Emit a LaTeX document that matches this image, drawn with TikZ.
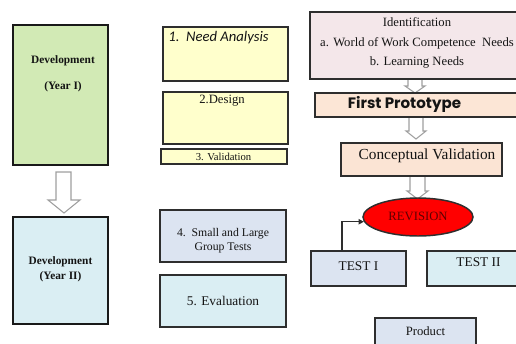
\documentclass[tikz,border=0pt]{standalone}
\usepackage{fontspec}
\setmainfont{Liberation Serif}
\newfontfamily\calib{Carlito}
\newfontfamily\popp{Poppins}
\usetikzlibrary{shapes.geometric,arrows.meta}
\definecolor{devgreen}{HTML}{D2EAB5}
\definecolor{devblue}{HTML}{DAEEF3}
\definecolor{paleyellow}{HTML}{FFFFCC}
\definecolor{lav}{HTML}{DCE4F1}
\definecolor{pinkish}{HTML}{F4E7EA}
\definecolor{peach}{HTML}{FCE6D6}
\definecolor{peach2}{HTML}{FBE4D4}
\definecolor{darkred}{HTML}{5E0000}
\definecolor{edge}{HTML}{2E2E2E}
\begin{document}
\begin{tikzpicture}[x=0.75pt,y=-0.75pt,
  box/.style={draw=edge, line width=1.1pt, inner sep=0pt},
  thickbox/.style={draw=black!90, line width=1.8pt, inner sep=0pt},
  txt/.style={inner sep=0pt, align=center, text=black!92},
  hollow/.style={draw=gray!75, fill=white, line width=0.8pt}]
\useasboundingbox (0,0) rectangle (516,343);
\clip (0,0) rectangle (516,343);

% hollow block arrows
\draw[hollow] (56,172) -- (71,172) -- (71,200) -- (80,200) -- (64,213) -- (48,200) -- (56,200) -- cycle;
\draw[hollow] (408,78) -- (422,78) -- (422,86) -- (425,86) -- (415,93) -- (405,86) -- (408,86) -- cycle;
\draw[hollow] (409,117) -- (423,117) -- (423,131) -- (426,131) -- (416,139) -- (406,131) -- (409,131) -- cycle;
\draw[hollow] (410,176) -- (425,176) -- (425,191) -- (428,191) -- (417.5,199) -- (407,191) -- (410,191) -- cycle;

% left column
\node[thickbox, fill=devgreen, minimum width=71.25pt, minimum height=105pt] (dev1) at (60.5,95) {};
\node[txt, font=\bfseries\fontsize{8.5}{19.5}\selectfont] (dev1t) at (63,74) {Development\\(Year I)};
\node[thickbox, fill=devblue, minimum width=71.25pt, minimum height=80.25pt] (dev2) at (60.5,270.5) {};
\node[txt, font=\bfseries\fontsize{8.5}{11.2}\selectfont] (dev2t) at (60.5,269.5) {Development\\(Year II)};

% middle column
\node[box, fill=paleyellow, minimum width=93.75pt, minimum height=40.5pt] (na) at (225.5,54) {};
\node[txt, font=\calib\itshape\fontsize{11}{13}\selectfont] (nat) at (218.5,38) {1.\ \ Need Analysis};
\node[box, fill=paleyellow, minimum width=93.75pt, minimum height=39pt] (des) at (225.5,118) {};
\node[txt, font=\fontsize{9.5}{11}\selectfont] (dest) at (222,101) {2.Design};
\node[box, fill=paleyellow, minimum width=94.5pt, minimum height=11.25pt] (val) at (224,156.5) {};
\node[txt, font=\fontsize{8}{10}\selectfont] (valt) at (223.5,157) {3. Validation};
\node[box, fill=lav, minimum width=94.5pt, minimum height=39pt] (slg) at (223,236) {};
\node[txt, font=\fontsize{8.8}{10.5}\selectfont] (slgt) at (223,241) {4.\ \ Small and Large\\Group Tests};
\node[box, fill=devblue, minimum width=94.5pt, minimum height=39pt] (eva) at (223,301) {};
\node[txt, font=\fontsize{10}{12}\selectfont] (evat) at (223,301) {5. Evaluation};

% right column
\node[box, fill=pinkish, minimum width=156pt, minimum height=50.25pt] (ident) at (414,45.5) {};
\node[txt, font=\fontsize{9.5}{14.8}\selectfont] (identt) at (417,43) {Identification\\a. World of Work Competence\ \ Needs\\b. Learning Needs};
\node[box, fill=peach, minimum width=152.25pt, minimum height=18pt] (fp) at (416.5,105) {};
\node[txt, font=\popp\bfseries\fontsize{11.3}{13}\selectfont] (fpt) at (404.5,104) {First Prototype};
\node[box, fill=peach2, minimum width=120.75pt, minimum height=24.75pt] (cv) at (421.5,159.5) {};
\node[txt, font=\fontsize{11.5}{13}\selectfont] (cvt) at (427,156) {Conceptual Validation};
\node[ellipse, draw=edge, line width=1.1pt, fill=red, minimum width=82.5pt, minimum height=28.5pt, inner sep=0pt] (rev) at (418,217) {};
\node[txt, text=darkred, font=\fontsize{9.5}{11}\selectfont] (revt) at (418,216) {REVISION};
\node[box, fill=lav, minimum width=71.25pt, minimum height=26.25pt] (t1) at (358.5,268.5) {};
\node[txt, font=\fontsize{10}{12}\selectfont] (t1t) at (358.5,266) {TEST I};
\node[box, fill=devblue, minimum width=77.25pt, minimum height=26.25pt] (t2) at (478.5,268.5) {};
\node[txt, font=\fontsize{10}{12}\selectfont] (t2t) at (478.5,262) {TEST II};
\node[box, fill=lav, minimum width=75.75pt, minimum height=31.5pt] (prod) at (425.5,339) {};
\node[txt, font=\fontsize{9.5}{11}\selectfont] (prodt) at (425.5,331) {Product};

\coordinate (t1top) at (342,251);
\draw[edge, line width=1.1pt, -{Triangle[length=4pt,width=4pt]}] (t1top) |- (rev.185);
\end{tikzpicture}
\end{document}
